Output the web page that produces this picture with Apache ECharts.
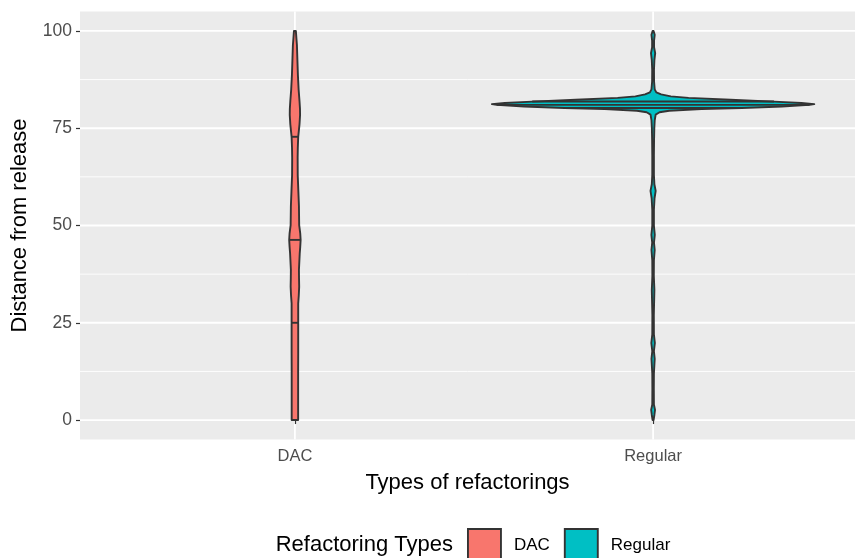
<!DOCTYPE html>
<html>
<head>
<meta charset="utf-8">
<script src="https://cdn.jsdelivr.net/npm/echarts@6/dist/echarts.min.js"></script>
<style>
  html, body { margin: 0; padding: 0; background: #ffffff; }
  #chart { width: 855px; height: 558px; }
</style>
</head>
<body>
<div id="chart"></div>
<script>
// Groups on the x axis and their fills
const groups = ['DAC', 'Regular'];
const groupPos = [1, 2];
const fills = ['#F8766D', '#00BFC4'];

// Kernel density profiles (y value, scaled density; 100 = widest point of all violins)
const dacY = [0, 4, 8.6, 12, 17.2, 20, 25, 30, 32, 34.3, 36.5, 38.6, 42.9, 44.5, 46.3, 48, 50.1, 55, 58.7, 63, 67.4, 70, 72.8, 76, 78.4, 80, 82, 85, 88.7, 92.5, 96.4, 98, 100];
const dacDensity = [2.0, 2.0, 2.0, 2.0, 2.05, 2.05, 2.05, 2.05, 2.4, 2.65, 2.55, 2.5, 3.0, 3.3, 3.55, 3.3, 2.65, 2.5, 2.15, 1.75, 1.7, 1.8, 2.05, 2.85, 3.2, 3.15, 2.85, 2.3, 1.85, 1.55, 1.25, 0.95, 0.6];

const regularY = [0, 1.3, 2.6, 4, 8, 12, 15.7, 17.7, 19.8, 22, 27, 33.4, 37, 41, 43.7, 45.6, 47.6, 50, 54, 57, 58.9, 60.6, 63, 68, 72, 75, 77, 78.5, 79.1, 79.5, 79.9, 80.2, 80.6, 81.0, 81.2, 81.5, 81.85, 82.3, 82.8, 83.2, 83.7, 84.2, 85, 87, 90, 92.5, 94.3, 95.8, 97.5, 99, 100];
const regularDensity = [0.3, 0.8, 1.2, 0.5, 0.45, 0.5, 1.0, 0.5, 1.1, 0.5, 0.45, 0.8, 0.45, 0.5, 1.0, 0.55, 1.05, 0.5, 0.5, 0.9, 1.6, 0.8, 0.5, 0.5, 0.6, 0.75, 1.0, 1.6, 4, 10, 30, 55, 80, 97, 100, 92, 75, 48, 22, 11, 5, 2.0, 1.0, 0.6, 0.55, 0.8, 1.3, 0.6, 0.6, 1.0, 0.3];

// Quartiles drawn inside each violin
const dacQuartiles = [25, 46.3, 72.8];
const regularQuartiles = [80.2, 81.0, 81.85];

// Axis ticks
const yTicks = [0, 25, 50, 75, 100];
const yMinorTicks = [12.5, 37.5, 62.5, 87.5];
const xTicks = groupPos;

const profiles = [
  { y: dacY, d: dacDensity, q: dacQuartiles },
  { y: regularY, d: regularDensity, q: regularQuartiles }
];

const X_MIN = 0.4, X_MAX = 2.5637, Y_MIN = -5, Y_MAX = 105;
const VIOLIN_WIDTH = 0.9;   // full width of the widest violin, in category units
const OUTLINE = '#333333';
const LINE_W = 1.9;
const FONT = '"Liberation Sans", Arial, Helvetica, sans-serif';

function halfWidth(d) { return d / 100 * VIOLIN_WIDTH / 2; }

function densityAt(p, yv) {
  const ys = p.y, ds = p.d;
  if (yv <= ys[0]) return ds[0];
  for (let i = 1; i < ys.length; i++) {
    if (yv <= ys[i]) {
      const t = (yv - ys[i - 1]) / (ys[i] - ys[i - 1]);
      return ds[i - 1] + t * (ds[i] - ds[i - 1]);
    }
  }
  return ds[ds.length - 1];
}

function renderViolin(params, api) {
  const gi = api.value(2);
  const x = api.value(0);
  const p = profiles[gi];
  const right = [], left = [];
  for (let i = 0; i < p.y.length; i++) {
    const hw = halfWidth(p.d[i]);
    right.push(api.coord([x + hw, p.y[i]]));
    left.push(api.coord([x - hw, p.y[i]]));
  }
  const points = right.concat(left.reverse());
  const children = [{
    type: 'polygon',
    shape: { points: points },
    style: { fill: fills[gi], stroke: OUTLINE, lineWidth: LINE_W, lineJoin: 'round' }
  }];
  p.q.forEach(function (qv) {
    const hw = halfWidth(densityAt(p, qv));
    const a = api.coord([x - hw, qv]);
    const b = api.coord([x + hw, qv]);
    children.push({
      type: 'line',
      shape: { x1: a[0], y1: a[1], x2: b[0], y2: b[1] },
      style: { stroke: OUTLINE, lineWidth: LINE_W }
    });
  });
  return { type: 'group', children: children };
}

// Panel grid lines: kind 0 = major horizontal, 1 = minor horizontal, 2 = major vertical
const gridData = []
  .concat(yTicks.map(v => [1.5, v, 0]))
  .concat(yMinorTicks.map(v => [1.5, v, 1]))
  .concat(xTicks.map(v => [v, 50, 2]));

function renderGrid(params, api) {
  const kind = api.value(2);
  let a, b;
  if (kind === 2) {
    a = api.coord([api.value(0), Y_MIN]);
    b = api.coord([api.value(0), Y_MAX]);
  } else {
    a = api.coord([X_MIN, api.value(1)]);
    b = api.coord([X_MAX, api.value(1)]);
  }
  return {
    type: 'line',
    shape: { x1: a[0], y1: a[1], x2: b[0], y2: b[1] },
    style: { stroke: '#FFFFFF', lineWidth: kind === 1 ? 0.9 : 1.8 }
  };
}

const chart = echarts.init(document.getElementById('chart'), null, { renderer: 'canvas' });

chart.setOption({
  animation: false,
  textStyle: { fontFamily: FONT },
  grid: {
    left: 80, top: 11.5, right: 0, height: 428,
    show: true, backgroundColor: '#EBEBEB', borderWidth: 0
  },
  xAxis: {
    type: 'value', min: X_MIN, max: X_MAX,
    name: 'Types of refactorings', nameLocation: 'middle', nameGap: 32,
    nameTextStyle: { fontSize: 22, color: '#000000', fontFamily: FONT },
    axisLine: { show: false },
    axisTick: { show: true, length: 4, customValues: xTicks, lineStyle: { color: '#333333', width: 1.2 } },
    axisLabel: {
      customValues: xTicks, margin: 8, fontSize: 16.5, color: '#4D4D4D', fontFamily: FONT,
      formatter: v => groups[groupPos.indexOf(v)] || ''
    },
    splitLine: { show: false }
  },
  yAxis: {
    type: 'value', min: Y_MIN, max: Y_MAX,
    name: 'Distance from release', nameLocation: 'middle', nameGap: 49,
    nameTextStyle: { fontSize: 22, color: '#000000', fontFamily: FONT },
    axisLine: { show: false },
    axisTick: { show: true, length: 4, customValues: yTicks, lineStyle: { color: '#333333', width: 1.2 } },
    axisLabel: { customValues: yTicks, margin: 8, fontSize: 17.5, color: '#4D4D4D', fontFamily: FONT },
    splitLine: { show: false }
  },
  legend: {
    left: 467, top: 528, orient: 'horizontal', padding: 0,
    itemWidth: 33, itemHeight: 33, itemGap: 14,
    textStyle: { fontSize: 17, color: '#000000', fontFamily: FONT, padding: [0, 0, 0, 8] },
    data: groups.map((g, i) => ({
      name: g, icon: 'rect',
      itemStyle: { color: fills[i], borderColor: OUTLINE, borderWidth: LINE_W }
    }))
  },
  graphic: [{
    type: 'text', x: 453, y: 545,
    style: {
      text: 'Refactoring Types', fill: '#000000',
      font: '22px ' + FONT, align: 'right', verticalAlign: 'middle'
    }
  }],
  series: [
    {
      type: 'custom', name: 'grid', silent: true, z: 0,
      renderItem: renderGrid, data: gridData
    }
  ].concat(groups.map((g, i) => ({
    type: 'custom', name: g, z: 2,
    itemStyle: { color: fills[i], borderColor: OUTLINE, borderWidth: LINE_W },
    renderItem: renderViolin,
    data: [[groupPos[i], 50, i]]
  })))
});
</script>
</body>
</html>
